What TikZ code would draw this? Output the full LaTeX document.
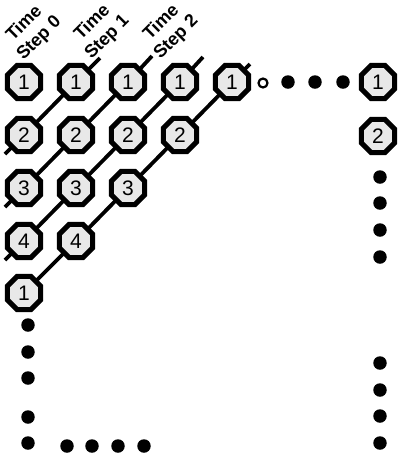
\documentclass[tikz,border=0pt]{standalone}
\usepackage{fontspec}
\setmainfont{Liberation Sans}
\usetikzlibrary{shapes.geometric}
\tikzset{
  oct/.style={regular polygon, regular polygon sides=8, minimum size=36pt, inner sep=0pt,
    draw=black, line width=5pt, fill=black!9, font=\fontsize{21}{21}\selectfont},
  diag/.style={line width=3.8pt},
  dot/.style={circle, fill=black, inner sep=0pt, minimum size=13.5pt},
  ring/.style={circle, draw=black, fill=white, line width=2.2pt, inner sep=0pt, minimum size=9pt},
  lab/.style={rotate=45, align=center, font=\bfseries\fontsize{18}{21}\selectfont, inner sep=0pt}
}
\begin{document}
\begin{tikzpicture}[x=1pt,y=-1pt]
\useasboundingbox (0,0) rectangle (399,459);
% labels
\node[lab] (l0) at (32,31) {Time\\Step 0};
\node[lab] (l1) at (100,30) {Time\\Step 1};
\node[lab] (l2) at (169,30) {Time\\Step 2};
% stub coordinates
\coordinate (s1a) at (5,154);
\coordinate (s1b) at (100,58);
\coordinate (s2a) at (5,207);
\coordinate (s2b) at (152,56);
\coordinate (s3a) at (5,260);
\coordinate (s3b) at (203,57);
\coordinate (s4b) at (250,64);
% positions
\coordinate (p11) at (24,82);  \coordinate (p12) at (76,82);  \coordinate (p13) at (128,82); \coordinate (p14) at (180,82); \coordinate (p15) at (232,82);
\coordinate (p21) at (24,135); \coordinate (p22) at (76,135); \coordinate (p23) at (128,135); \coordinate (p24) at (180,135);
\coordinate (p31) at (24,188); \coordinate (p32) at (76,188); \coordinate (p33) at (128,188);
\coordinate (p41) at (24,241); \coordinate (p42) at (76,241);
\coordinate (p51) at (24,293);
% diagonals
\draw[diag] (s1a) -- (p21) -- (p12) -- (s1b);
\draw[diag] (s2a) -- (p31) -- (p22) -- (p13) -- (s2b);
\draw[diag] (s3a) -- (p41) -- (p32) -- (p23) -- (p14) -- (s3b);
\draw[diag] (p51) -- (p42) -- (p33) -- (p24) -- (p15) -- (s4b);
% octagons
\node[oct] (n11) at (p11) {1};
\node[oct] (n12) at (p12) {1};
\node[oct] (n13) at (p13) {1};
\node[oct] (n14) at (p14) {1};
\node[oct] (n15) at (p15) {1};
\node[oct] (n21) at (p21) {2};
\node[oct] (n22) at (p22) {2};
\node[oct] (n23) at (p23) {2};
\node[oct] (n24) at (p24) {2};
\node[oct] (n31) at (p31) {3};
\node[oct] (n32) at (p32) {3};
\node[oct] (n33) at (p33) {3};
\node[oct] (n41) at (p41) {4};
\node[oct] (n42) at (p42) {4};
\node[oct] (n51) at (p51) {1};
\node[oct] (r1) at (378,82) {1};
\node[oct] (r2) at (378,136) {2};
% top row ellipsis
\node[ring] (c0) at (263,83) {};
\node[dot] (t1) at (288,82) {};
\node[dot] (t2) at (315,82) {};
\node[dot] (t3) at (343,82) {};
% right column dots
\foreach \y [count=\i] in {177,203,230,257,363,390,416,443}
  \node[dot] (rd\i) at (380,\y) {};
% left column dots
\foreach \y [count=\i] in {325,352,378,417,443}
  \node[dot] (ld\i) at (28,\y) {};
% bottom dots
\foreach \x [count=\i] in {67,92,118,144}
  \node[dot] (bd\i) at (\x,446) {};
\end{tikzpicture}
\end{document}
